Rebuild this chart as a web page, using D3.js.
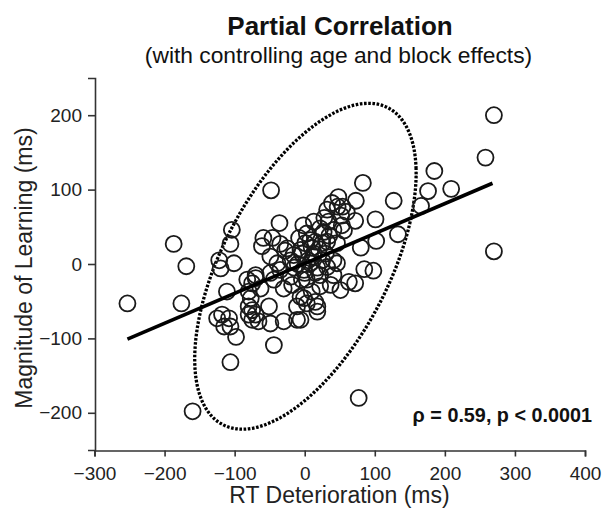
<!DOCTYPE html>
<html>
<head>
<meta charset="utf-8">
<script src="https://cdn.jsdelivr.net/npm/d3@7"></script>
<style>
  html, body { margin: 0; padding: 0; background: #fff; }
  svg { display: block; font-family: "Liberation Sans", Arial, Helvetica, sans-serif; }
</style>
</head>
<body>
<svg id="chart" width="606" height="508"></svg>
<script>
// RT deterioration (ms) vs. magnitude of learning (ms), partial residuals
const rtDeterioration = [
  -253, -187, -169, -176, -160, 270, 270, 258, 185, 176, 209, 166, 127, 83, 73, 101, 72, 133, 102, 80,
  85, 98, 54, 53, -106, -98, -44, 77, -48, -104, -106, -122, -101, -120, -36, -59, -61, -46, -49, -35,
  -25, -8, -16, -4, 48, 39, 47, 32, 13, 34, 27, 41, 56, 3, 15, 32, 46, 1, -6, 13,
  30, 41, 72, 63, 51, 37, 22, 41, 22, 3, 10, -1, 15, 18, -6, -1, 8, 46, 32, -111,
  -118, -125, -108, -115, -106, -80, -77, -80, -75, -80, -70, -66, -75, -51, -49, -30, -11, -70, -75, -63,
  -49, -44, -35, -39, -20, -6, -18, -4, -30, -11, 3, 18, 5, 12, 20, 25, -10, 18, -15, 10,
  25, -20, 0, 15, -82, -70, 35, 22, 8, -28, 52, 28, 60, -2
];
const learning = [
  -53, 27, -3, -53, -198, 200, 17, 143, 125, 98, 101, 78, 85, 109, 85, 60, 58, 40, 31, 22,
  -7, -9, 77, 52, -132, -98, -109, -180, 99, 46, 27, 5, 1, -6, 55, 35, 24, 35, 10, 27,
  21, 35, 12, 14, 90, 82, 77, 73, 57, 57, 43, 46, 45, 41, 30, 30, 28, 28, 19, 14,
  14, 5, -26, -24, -35, -28, -30, -15, -15, -21, -37, -46, -51, -64, -75, -8, 1, 1, -4, -37,
  -68, -73, -73, -84, -84, -37, -46, -57, -62, -68, -68, -77, -75, -57, -80, -77, -75, -15, -26, -33,
  -12, -21, -8, 1, -17, -44, -28, -21, -33, -57, -53, -57, 5, 10, 20, 5, 0, -5, -5, 22,
  28, 5, -12, -12, -21, -19, 38, 48, 32, 18, 65, 62, 70, 52
];

// least-squares fit drawn across the observed RT range
const fitLine = { x: [-253, 268], y: [-101, 108.5] };

// dotted concentration ellipse: centre, half-extents along each axis, correlation
const ellipseCentre = [1, -3];
const ellipseExtent = [158, 219];
const ellipseRho = 0.57;

const xTicks = [-300, -200, -100, 0, 100, 200, 300, 400];
const yTicks = [-200, -100, 0, 100, 200];

const titleText = "Partial Correlation";
const subtitleText = "(with controlling age and block effects)";
const xLabel = "RT Deterioration (ms)";
const yLabel = "Magnitude of Learning (ms)";
const statText = "\u03C1 = 0.59, p < 0.0001";

const svg = d3.select("#chart");
const ink = "#111";

const x = d3.scaleLinear().domain([-300, 400]).range([94.5, 585]);
const y = d3.scaleLinear().domain([-250, 250]).range([450, 78]);

// titles
svg.append("text").attr("x", 340).attr("y", 35).attr("text-anchor", "middle")
  .attr("font-size", 26).attr("font-weight", "bold").attr("fill", ink).text(titleText);
svg.append("text").attr("x", 338.5).attr("y", 63).attr("text-anchor", "middle")
  .attr("font-size", 22.8).attr("fill", ink).text(subtitleText);

// axes
const xAxis = svg.append("g").attr("transform", `translate(0,${y(-250) + 0.5})`)
  .call(d3.axisBottom(x).tickValues(xTicks).tickSize(6).tickPadding(5).tickFormat(d3.format("d")));
const yAxis = svg.append("g").attr("transform", `translate(${x(-300) + 0.5},0)`)
  .call(d3.axisLeft(y).tickValues(yTicks).tickSize(7).tickPadding(6).tickFormat(d3.format("d")));
[xAxis, yAxis].forEach(g => {
  g.select(".domain").attr("stroke", "#333").attr("stroke-width", 1.6);
  g.selectAll(".tick line").attr("stroke", "#333").attr("stroke-width", 1.6);
  g.selectAll(".tick text").attr("font-size", 19).attr("fill", "#222")
    .attr("font-family", "'Liberation Sans', Arial, sans-serif");
});
xAxis.selectAll(".tick text").attr("dy", "0.95em");

svg.append("text").attr("x", 339.5).attr("y", 503).attr("text-anchor", "middle")
  .attr("font-size", 23).attr("fill", "#222").text(xLabel);
svg.append("text").attr("transform", "translate(32,268) rotate(-90)").attr("text-anchor", "middle")
  .attr("font-size", 23).attr("fill", "#222").text(yLabel);

// ellipse path
const tSteps = d3.range(0, 361, 2).map(d => d * Math.PI / 180);
const phase = Math.acos(ellipseRho);
const ellipsePts = tSteps.map(t => [
  ellipseCentre[0] + ellipseExtent[0] * Math.cos(t),
  ellipseCentre[1] + ellipseExtent[1] * Math.cos(t - phase)
]);
svg.append("path")
  .datum(ellipsePts)
  .attr("d", d3.line().x(d => x(d[0])).y(d => y(d[1])).curve(d3.curveCardinalClosed))
  .attr("fill", "none").attr("stroke", "#000").attr("stroke-width", 3.3)
  .attr("stroke-dasharray", "2.6,1.6");

// points
const pts = rtDeterioration.map((v, i) => ({ x: v, y: learning[i] }));
svg.append("g").selectAll("circle").data(pts).join("circle")
  .attr("cx", d => x(d.x)).attr("cy", d => y(d.y)).attr("r", 8)
  .attr("fill", "none").attr("stroke", "#1a1a1a").attr("stroke-width", 1.8);

// regression line
svg.append("line")
  .attr("x1", x(fitLine.x[0])).attr("y1", y(fitLine.y[0]))
  .attr("x2", x(fitLine.x[1])).attr("y2", y(fitLine.y[1]))
  .attr("stroke", "#000").attr("stroke-width", 3.6);

// statistic annotation
svg.append("text").attr("x", 592).attr("y", 421.5).attr("text-anchor", "end")
  .attr("font-size", 19.8).attr("font-weight", "bold").attr("fill", ink).text(statText);
</script>
</body>
</html>
